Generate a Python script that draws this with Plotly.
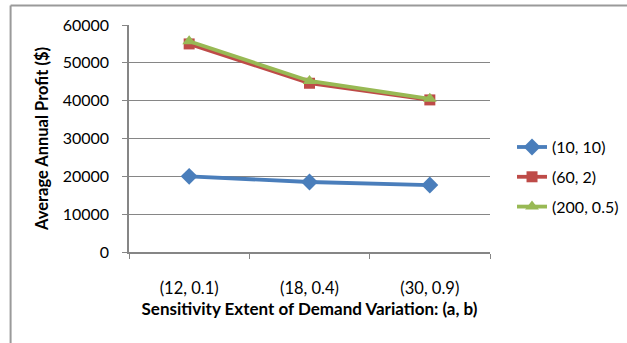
import plotly.graph_objects as go

# Demand-variation scenarios (a, b) on the x axis
categories = ["(12, 0.1)", "(18, 0.4)", "(30, 0.9)"]

# Average annual profit for each (alpha, beta) setting
profit_10_10 = [20000, 18500, 17700]
profit_60_2 = [55000, 44600, 40200]
profit_200_05 = [55700, 45200, 40500]

series_names = ["(10, 10)", "(60, 2)", "(200, 0.5)"]
y_ticks = [0, 10000, 20000, 30000, 40000, 50000, 60000]

font_family = "Lato, 'Open Sans', sans-serif"

fig = go.Figure()
styles = [
    (profit_10_10, "#4A7EBB", "diamond", 13),
    (profit_60_2, "#BE4B48", "square", 11),
    (profit_200_05, "#98B954", "triangle-up", 12),
]
for name, (vals, color, symbol, size) in zip(series_names, styles):
    fig.add_trace(go.Scatter(
        x=categories, y=vals, name=name, legendgroup=name,
        mode="lines+markers",
        line=dict(color=color, width=3.8),
        marker=dict(symbol=symbol, size=size, color=color),
    ))

fig.update_layout(
    width=627, height=343,
    margin=dict(l=129, r=137, t=25, b=91, autoexpand=False),
    paper_bgcolor="white", plot_bgcolor="white",
    font=dict(family=font_family, size=16, color="black"),
    showlegend=True,
    legend=dict(x=1.061, y=0.33, xanchor="left", yanchor="middle",
                font=dict(size=16), itemwidth=30, tracegroupgap=6,
                traceorder="grouped",
                bgcolor="rgba(0,0,0,0)"),
    xaxis=dict(
        type="category", tickson="boundaries", ticks="outside", ticklen=5,
        tickcolor="#868686", showline=True, linecolor="#868686", linewidth=1.5,
        showgrid=False, range=[-0.5, 2.5],
        tickfont=dict(size=16.5), ticklabelstandoff=20,
        title=dict(text="<b>Sensitivity Extent of Demand Variation: (a, b)</b>",
                   font=dict(size=17), standoff=5),
    ),
    yaxis=dict(
        range=[0, 60000], tickvals=y_ticks, tickformat="d",
        ticks="outside", ticklen=5,
        tickcolor="#868686", showline=True, linecolor="#868686", linewidth=1.5,
        showgrid=True, gridcolor="#868686", gridwidth=1, zeroline=False,
        tickfont=dict(size=16), ticklabelstandoff=10,
        title=dict(text="<b>Average Annual Profit ($)</b>", font=dict(size=16.5),
                   standoff=10),
    ),
)

# Chart frame (left and top edges)
fig.add_shape(type="line", xref="paper", yref="paper",
              x0=-0.328, x1=-0.328, y0=1.086, y1=-0.45,
              line=dict(color="#9A9A9A", width=2))
fig.add_shape(type="line", xref="paper", yref="paper",
              x0=-0.328, x1=1.40, y0=1.086, y1=1.086,
              line=dict(color="#9A9A9A", width=2))

fig.write_html("out.html")
